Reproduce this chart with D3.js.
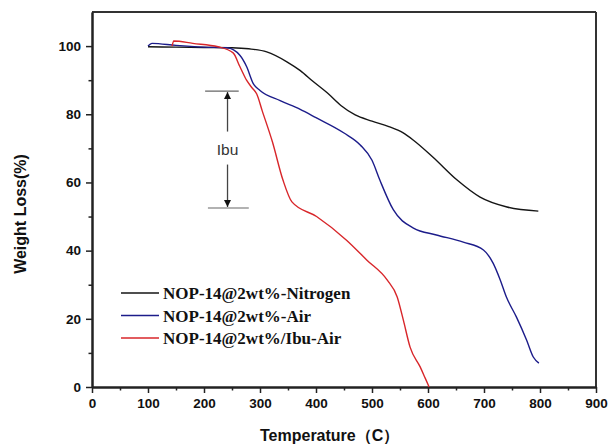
<!DOCTYPE html>
<html>
<head>
<meta charset="utf-8">
<script src="https://cdn.jsdelivr.net/npm/d3@7"></script>
<style>
  html, body { margin: 0; padding: 0; background: #fff; }
  svg { display: block; }
</style>
</head>
<body>
<svg id="chart" width="608" height="446"></svg>
<script>
// ---- data ----
const seriesNames = ["NOP-14@2wt%-Nitrogen", "NOP-14@2wt%-Air", "NOP-14@2wt%/Ibu-Air"];

const nitrogen = [
  [100,99.8],[150,99.7],[200,99.6],[250,99.5],[280,99.2],[312,98.3],[348,95.4],
  [372,92.8],[395,89.6],[420,86.3],[445,82.5],[470,79.8],[500,78],[530,76.4],
  [555,74.6],[574,72.4],[609,67.4],[652,60.7],[693,55.7],[741,52.8],[797,51.6]
];
const air = [
  [100,100],[107,100.8],[150,100.2],[200,99.7],[241,99.5],[264,97.3],[276,94],
  [288,89],[300,87],[336,84],[371,81.5],[400,79],[450,74.5],[479,71],[500,66.5],
  [514,60.7],[538,52],[574,46.6],[615,44.6],[663,42.5],[699,40.2],[716,36.4],
  [729,31.4],[740,26.4],[758,20.5],[776,13.8],[788,8.8],[798,7]
];
const ibuAir = [
  [143,100],[146,101.5],[180,100.8],[225,99.8],[252,98],[264,94],[276,90],
  [286,87.7],[294,86],[304,81],[322,72],[341,60.7],[357,54.3],[401,50],[455,43],
  [491,37.2],[527,31.4],[545,26.4],[556,19.6],[568,11.7],[586,5.9],[595,2.6],[602,0]
];
const seriesData = [nitrogen, air, ibuAir];
const seriesColors = ["#151515", "#1c1c8a", "#d8262a"];

const xTicks = [0,100,200,300,400,500,600,700,800,900];
const yTicks = [0,20,40,60,80,100];
const xMinor = [50,150,250,350,450,550,650,750,850];
const yMinor = [10,30,50,70,90];

// annotation (data units)
const annoTop = {x1: 202, x2: 262, y: 86.8};
const annoBottom = {x1: 207, x2: 280, y: 52.5};
const annoArrowX = 242;
const annoLabel = "Ibu";

// ---- layout ----
const W = 608, H = 446;
const margin = {left: 92, right: 12, top: 12, bottom: 59};
const svg = d3.select("#chart");

const x = d3.scaleLinear().domain([0, 900]).range([margin.left, W - margin.right]);
const y = d3.scaleLinear().domain([0, 110]).range([H - margin.bottom, margin.top]);

const axisColor = "#222";

// frame top/right
svg.append("line").attr("x1", x(0)).attr("x2", x(900)).attr("y1", y(110)).attr("y2", y(110))
  .attr("stroke", "#333").attr("stroke-width", 2);
svg.append("line").attr("x1", x(900)).attr("x2", x(900)).attr("y1", y(110)).attr("y2", y(0))
  .attr("stroke", "#333").attr("stroke-width", 2);

// x axis
const xAxis = svg.append("g").attr("transform", `translate(0,${y(0)})`)
  .call(d3.axisBottom(x).tickValues(xTicks).tickSize(6).tickSizeOuter(0).tickPadding(5));
const xMinorAxis = svg.append("g").attr("transform", `translate(0,${y(0)})`)
  .call(d3.axisBottom(x).tickValues(xMinor).tickSize(3.5).tickFormat("").tickSizeOuter(0));
// y axis
const yAxis = svg.append("g").attr("transform", `translate(${x(0)},0)`)
  .call(d3.axisLeft(y).tickValues(yTicks).tickSize(6).tickSizeOuter(0).tickPadding(5));
const yMinorAxis = svg.append("g").attr("transform", `translate(${x(0)},0)`)
  .call(d3.axisLeft(y).tickValues(yMinor).tickSize(3.5).tickFormat("").tickSizeOuter(0));

[xAxis, yAxis, xMinorAxis, yMinorAxis].forEach(g => {
  g.select(".domain").attr("stroke", axisColor).attr("stroke-width", 2);
  g.selectAll(".tick line").attr("stroke", axisColor).attr("stroke-width", 1.5);
  g.selectAll("text").attr("fill", "#111")
    .style("font-family", "Arial, 'Liberation Sans', sans-serif")
    .style("font-size", "13.5px").style("font-weight", "bold");
});

// axis titles
svg.append("text")
  .attr("x", 260).attr("y", 441)
  .style("font-family", "Arial, 'Liberation Sans', sans-serif")
  .style("font-size", "16px").style("font-weight", "bold").attr("fill", "#111")
  .text("Temperature（C）");

svg.append("text")
  .attr("transform", `translate(26,${214}) rotate(-90)`)
  .attr("text-anchor", "middle")
  .style("font-family", "Arial, 'Liberation Sans', sans-serif")
  .style("font-size", "16px").style("font-weight", "bold").attr("fill", "#111")
  .text("Weight Loss(%)");

// curves
const line = d3.line().x(d => x(d[0])).y(d => y(d[1])).curve(d3.curveMonotoneX);
seriesData.forEach((data, i) => {
  svg.append("path").datum(data)
    .attr("d", line)
    .attr("fill", "none")
    .attr("stroke", seriesColors[i])
    .attr("stroke-width", 1.4);
});

// annotation
const annoColor = "#444";
svg.append("line").attr("x1", x(annoTop.x1)).attr("x2", x(annoTop.x2))
  .attr("y1", y(annoTop.y)).attr("y2", y(annoTop.y)).attr("stroke", "#666").attr("stroke-width", 1.2);
svg.append("line").attr("x1", x(annoBottom.x1)).attr("x2", x(annoBottom.x2))
  .attr("y1", y(annoBottom.y)).attr("y2", y(annoBottom.y)).attr("stroke", "#666").attr("stroke-width", 1.2);

const defs = svg.append("defs");
defs.append("marker").attr("id", "arrow").attr("viewBox", "0 0 10 10")
  .attr("refX", 10).attr("refY", 5).attr("markerWidth", 11).attr("markerHeight", 7)
  .attr("orient", "auto").attr("markerUnits", "userSpaceOnUse")
  .append("path").attr("d", "M0,0 L10,5 L0,10 z").attr("fill", "#111");

const midY = (annoTop.y + annoBottom.y) / 2;
const labelY = y(midY);
svg.append("line").attr("x1", x(annoArrowX)).attr("x2", x(annoArrowX))
  .attr("y1", labelY - 18).attr("y2", y(annoTop.y) + 1)
  .attr("stroke", annoColor).attr("stroke-width", 1.3).attr("marker-end", "url(#arrow)");
svg.append("line").attr("x1", x(annoArrowX)).attr("x2", x(annoArrowX))
  .attr("y1", labelY + 15).attr("y2", y(annoBottom.y) - 1)
  .attr("stroke", annoColor).attr("stroke-width", 1.3).attr("marker-end", "url(#arrow)");
svg.append("text").attr("x", x(annoArrowX)).attr("y", labelY + 5)
  .attr("text-anchor", "middle")
  .style("font-family", "Arial, 'Liberation Sans', sans-serif")
  .style("font-size", "15.5px").attr("fill", "#333")
  .text(annoLabel);

// legend
const legendX = 121, legendY = 293, legendStep = 22.5;
seriesNames.forEach((name, i) => {
  const ly = legendY + i * legendStep;
  svg.append("line").attr("x1", legendX).attr("x2", legendX + 38)
    .attr("y1", ly).attr("y2", ly)
    .attr("stroke", seriesColors[i]).attr("stroke-width", 1.4);
  svg.append("text").attr("x", legendX + 42).attr("y", ly + 6)
    .style("font-family", "'Liberation Serif', 'Times New Roman', serif")
    .style("font-size", "17px").style("font-weight", "bold").attr("fill", "#111")
    .text(name);
});
</script>
</body>
</html>
